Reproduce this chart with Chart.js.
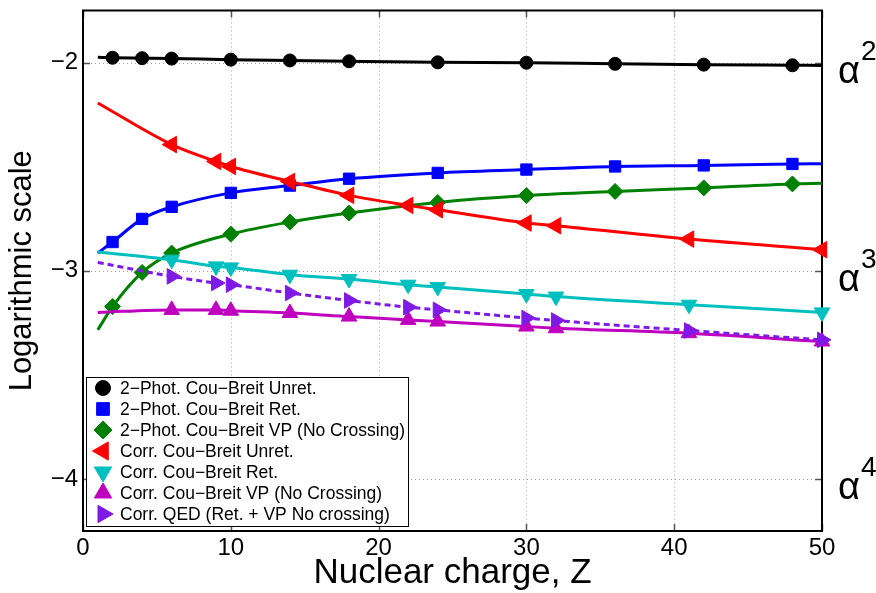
<!DOCTYPE html>
<html>
<head>
<meta charset="utf-8">
<script src="https://cdn.jsdelivr.net/npm/chart.js@4.4.1/dist/chart.umd.min.js"></script>
<style>
  body { margin: 0; background: #fff; }
  #wrap { width: 876px; height: 593px; }
</style>
</head>
<body>
<div id="wrap"><canvas id="chart" width="876" height="593"></canvas></div>
<script>
// two-photon curves: Z values (first and last are curve ends, no marker)
const zPhot = [1, 2, 4, 6, 10, 14, 18, 24, 30, 36, 42, 48, 50];
const photUnret = [-1.975, -1.977, -1.979, -1.981, -1.986, -1.990, -1.994, -1.999, -2.001, -2.006, -2.010, -2.013, -2.014];
const photRet   = [-2.915, -2.862, -2.751, -2.693, -2.626, -2.591, -2.558, -2.530, -2.514, -2.499, -2.494, -2.487, -2.486];
const photVP    = [-3.284, -3.172, -3.008, -2.915, -2.824, -2.766, -2.723, -2.672, -2.639, -2.619, -2.602, -2.583, -2.580];

// correlation curves (first point is curve start, no marker)
const zCorr = [1, 6, 9, 10, 14, 18, 22, 24, 30, 32, 41, 50];
const corrUnret = [-2.194, -2.394, -2.475, -2.499, -2.571, -2.638, -2.686, -2.707, -2.771, -2.784, -2.848, -2.899];
const corrRet   = [-2.910, -2.947, -2.979, -2.984, -3.019, -3.040, -3.067, -3.078, -3.112, -3.124, -3.163, -3.200];
const corrVP    = [-3.200, -3.188, -3.188, -3.192, -3.203, -3.220, -3.236, -3.244, -3.268, -3.276, -3.300, -3.340];
const corrQED   = [-2.960, -3.027, -3.059, -3.067, -3.107, -3.143, -3.175, -3.188, -3.227, -3.239, -3.287, -3.332];

const xTicks = [0, 10, 20, 30, 40, 50];
const yTicks = [-4, -3, -2];
const alphaPowers = ['4', '3', '2'];

const FONT = '"Liberation Sans", Arial, sans-serif';

const series = [
  { label: '2\u2212Phot. Cou\u2212Breit Unret.', z: zPhot, v: photUnret, color: '#000000', style: 'circle', r: 6.5, rot: 0, ends: [1, 50] },
  { label: '2\u2212Phot. Cou\u2212Breit Ret.', z: zPhot, v: photRet, color: '#0000ff', style: 'rect', r: 8, rot: 0, ends: [1, 50] },
  { label: '2\u2212Phot. Cou\u2212Breit VP (No Crossing)', z: zPhot, v: photVP, color: '#008000', style: 'rectRot', r: 8, rot: 0, ends: [1, 50] },
  { label: 'Corr. Cou\u2212Breit Unret.', z: zCorr, v: corrUnret, color: '#ff0000', style: 'triangle', r: 9.5, rot: 270, ends: [1] },
  { label: 'Corr. Cou\u2212Breit Ret.', z: zCorr, v: corrRet, color: '#00bfbf', style: 'triangle', r: 9, rot: 180, ends: [1] },
  { label: 'Corr. Cou\u2212Breit VP (No Crossing)', z: zCorr, v: corrVP, color: '#bf00bf', style: 'triangle', r: 9, rot: 0, ends: [1] },
  { label: 'Corr. QED (Ret. + VP No crossing)', z: zCorr, v: corrQED, color: '#7f1ae6', style: 'triangle', r: 9, rot: 90, ends: [1], dash: [6, 4] }
];

const datasets = series.map((s, i) => ({
  label: s.label,
  data: s.z.map((z, k) => ({ x: z, y: s.v[k] })),
  showLine: true,
  borderColor: s.color,
  backgroundColor: s.color,
  borderWidth: 3,
  borderDash: s.dash || [],
  tension: 0.4,
  cubicInterpolationMode: 'monotone',
  pointStyle: s.style,
  rotation: s.rot,
  pointRadius: s.z.map(z => s.ends.includes(z) ? 0 : s.r),
  pointHoverRadius: s.z.map(z => s.ends.includes(z) ? 0 : s.r),
  pointBorderWidth: 1,
  pointBackgroundColor: s.color,
  pointBorderColor: s.color,
  legendRadius: s.r + 1,
  order: 10 - i,
  clip: false
}));

// dotted grid, box and inner ticks like the original figure
const axesBox = {
  id: 'axesBox',
  beforeDatasetsDraw(chart) {
    const { ctx, chartArea: a, scales } = chart;
    ctx.save();
    ctx.strokeStyle = '#a0a0a0';
    ctx.lineWidth = 1;
    ctx.setLineDash([1, 3]);
    xTicks.forEach(v => {
      const x = Math.round(scales.x.getPixelForValue(v)) + 0.5;
      ctx.beginPath(); ctx.moveTo(x, a.top); ctx.lineTo(x, a.bottom); ctx.stroke();
    });
    yTicks.forEach(v => {
      const y = Math.round(scales.y.getPixelForValue(v)) + 0.5;
      ctx.beginPath(); ctx.moveTo(a.left, y); ctx.lineTo(a.right, y); ctx.stroke();
    });
    ctx.setLineDash([]);
    ctx.strokeStyle = '#555';
    ctx.lineWidth = 1.5;
    xTicks.forEach(v => {
      const x = Math.round(scales.x.getPixelForValue(v)) + 0.5;
      ctx.beginPath();
      ctx.moveTo(x, a.bottom); ctx.lineTo(x, a.bottom - 7);
      ctx.moveTo(x, a.top); ctx.lineTo(x, a.top + 7);
      ctx.stroke();
    });
    yTicks.forEach(v => {
      const y = Math.round(scales.y.getPixelForValue(v)) + 0.5;
      ctx.beginPath();
      ctx.moveTo(a.left, y); ctx.lineTo(a.left + 7, y);
      ctx.moveTo(a.right, y); ctx.lineTo(a.right - 7, y);
      ctx.stroke();
    });
    ctx.strokeStyle = '#000';
    ctx.lineWidth = 2;
    ctx.strokeRect(a.left, a.top, a.right - a.left, a.bottom - a.top);
    ctx.restore();
  },
  afterDraw(chart) {
    const { ctx, chartArea: a, scales } = chart;
    ctx.save();
    ctx.fillStyle = '#000';
    ctx.textAlign = 'left';
    ctx.textBaseline = 'alphabetic';
    yTicks.forEach((v, i) => {
      const y = scales.y.getPixelForValue(v);
      ctx.font = '38px ' + FONT;
      ctx.fillText('\u03b1', a.right + 16, y + 20);
      const w = ctx.measureText('\u03b1').width;
      ctx.font = '28px ' + FONT;
      ctx.fillText(alphaPowers[i], a.right + 17 + w, y - 3);
    });
    ctx.restore();
  }
};

// legend box drawn inside the plot area, lower left
const insideLegend = {
  id: 'insideLegend',
  afterDraw(chart) {
    const ctx = chart.ctx;
    const x0 = 86, y0 = 377, w = 322, h = 149;
    ctx.save();
    ctx.fillStyle = '#fff';
    ctx.fillRect(x0, y0, w, h);
    ctx.strokeStyle = '#000';
    ctx.lineWidth = 1;
    ctx.strokeRect(x0 + 0.5, y0 + 0.5, w, h);
    chart.data.datasets.forEach((ds, i) => {
      const y = y0 + 11 + i * 21;
      ctx.fillStyle = ds.borderColor;
      ctx.strokeStyle = ds.borderColor;
      ctx.lineWidth = 1;
      Chart.helpers.drawPoint(ctx, { pointStyle: ds.pointStyle, radius: ds.legendRadius, rotation: ds.rotation, borderWidth: 1 }, x0 + 17, y);
      ctx.fillStyle = '#000';
      ctx.font = '17.5px ' + FONT;
      ctx.textBaseline = 'middle';
      ctx.fillText(ds.label, x0 + 34, y + 1);
    });
    ctx.restore();
  }
};

new Chart(document.getElementById('chart'), {
  type: 'scatter',
  data: { datasets: datasets },
  options: {
    responsive: false,
    animation: false,
    layout: { padding: { top: 10, right: 54, left: 0, bottom: 0 } },
    plugins: {
      legend: { display: false },
      tooltip: { enabled: false }
    },
    scales: {
      x: {
        type: 'linear',
        min: 0,
        max: 50,
        afterBuildTicks: s => { s.ticks = xTicks.map(v => ({ value: v })); },
        afterFit: s => { s.height = 62; s.paddingLeft = 0; s.paddingRight = 0; },
        grid: { display: false, drawTicks: false },
        border: { display: false },
        ticks: { color: '#000', font: { family: FONT, size: 24 }, padding: 3, maxRotation: 0 },
        title: { display: true, text: 'Nuclear charge, Z', color: '#000', font: { family: FONT, size: 35, lineHeight: 1.1 }, padding: 0 }
      },
      y: {
        type: 'linear',
        min: -4.25,
        max: -1.75,
        afterBuildTicks: s => { s.ticks = yTicks.map(v => ({ value: v })); },
        afterFit: s => { s.width = 83; s.paddingTop = 0; s.paddingBottom = 0; },
        grid: { display: false, drawTicks: false },
        border: { display: false },
        ticks: {
          color: '#000',
          font: { family: FONT, size: 24 },
          padding: 5,
          callback: v => (v < 0 ? '\u2212' : '') + Math.abs(v)
        },
        title: { display: true, text: 'Logarithmic scale', color: '#000', font: { family: FONT, size: 31, lineHeight: 1.2 }, padding: { top: 4, bottom: 0 } }
      }
    }
  },
  plugins: [axesBox, insideLegend]
});
</script>
</body>
</html>
